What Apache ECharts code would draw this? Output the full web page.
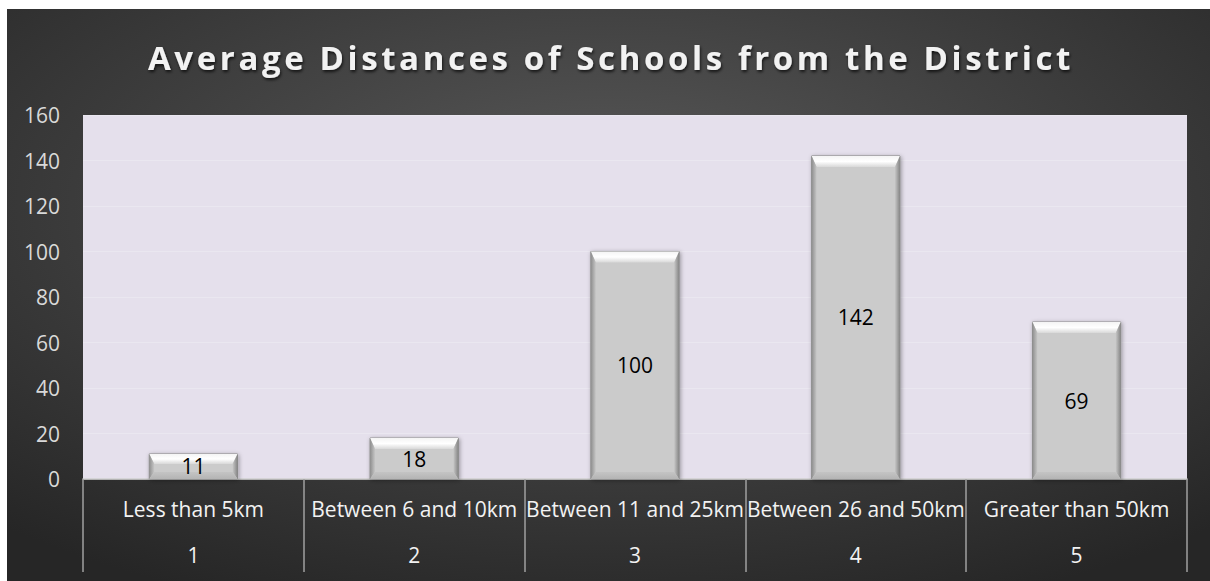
<!DOCTYPE html>
<html>
<head>
<meta charset="utf-8">
<script src="https://cdn.jsdelivr.net/npm/echarts@6/dist/echarts.min.js"></script>
<style>
html,body{margin:0;padding:0;background:#fff;width:1210px;height:581px;overflow:hidden;}
#chart{position:absolute;left:7px;top:9px;width:1203px;height:572px;}
#chart text[style*="33px"]{letter-spacing:3.6px;}
</style>
</head>
<body>
<div id="chart"></div>
<script>
const titleText = 'Average Distances of Schools from the District';
const categories = ['Less than 5km', 'Between 6 and 10km', 'Between 11 and 25km', 'Between 26 and 50km', 'Greater than 50km'];
const categoryNumbers = ['1', '2', '3', '4', '5'];
const values = [11, 18, 100, 142, 69];
const yTicks = { min: 0, max: 160, interval: 20 };

const chart = echarts.init(document.getElementById('chart'), null, { renderer: 'svg' });

function renderBevelBar(params, api) {
  const idx = api.value(0);
  const v = api.value(1);
  const topPt = api.coord([idx, v]);
  const basePt = api.coord([idx, 0]);
  const bw = api.size([1, 0])[0] * 0.4;
  const l = topPt[0] - bw / 2, r = topPt[0] + bw / 2;
  const t = topPt[1], b = basePt[1];
  const h = b - t;
  const tb = Math.min(11, h * 0.4);
  const bb = Math.min(7, h * 0.3);
  const s = 5;
  return {
    type: 'group',
    children: [
      { type: 'rect', shape: { x: l, y: t, width: bw, height: h },
        style: { fill: '#CBCBCB', stroke: '#8C8C8C', lineWidth: 1, shadowColor: 'rgba(0,0,0,0.35)', shadowBlur: 4, shadowOffsetX: 1, shadowOffsetY: 1 } },
      { type: 'polygon', shape: { points: [[l, t], [r, t], [r - s, t + tb], [l + s, t + tb]] },
        style: { fill: new echarts.graphic.LinearGradient(0, 0, 0, 1, [{ offset: 0, color: '#F4F4F4' }, { offset: 0.5, color: '#FFFFFF' }, { offset: 1, color: '#D8D8D8' }]) } },
      { type: 'polygon', shape: { points: [[l, t], [l + s, t + tb], [l + s, b - bb], [l, b]] },
        style: { fill: new echarts.graphic.LinearGradient(0, 0, 1, 0, [{ offset: 0, color: '#8E8E8E' }, { offset: 1, color: '#C6C6C6' }]) } },
      { type: 'polygon', shape: { points: [[r, t], [r - s, t + tb], [r - s, b - bb], [r, b]] },
        style: { fill: new echarts.graphic.LinearGradient(0, 0, 1, 0, [{ offset: 0, color: '#C6C6C6' }, { offset: 1, color: '#858585' }]) } },
      { type: 'polygon', shape: { points: [[l, b], [l + s, b - bb], [r - s, b - bb], [r, b]] },
        style: { fill: new echarts.graphic.LinearGradient(0, 0, 0, 1, [{ offset: 0, color: '#C4C4C4' }, { offset: 1, color: '#B4B4B4' }]) } },
      { type: 'text', style: { text: String(v), x: topPt[0], y: (t + b) / 2, align: 'center', verticalAlign: 'middle',
        font: '21px "Open Sans"', fill: '#000000' } }
    ]
  };
}

const option = {
  backgroundColor: new echarts.graphic.RadialGradient(0.5, 0.35, 0.75, [
    { offset: 0, color: '#5A5A5A' },
    { offset: 1, color: '#262626' }
  ]),
  title: {
    text: titleText,
    left: 136,
    top: 27,
    textStyle: {
      fontFamily: 'Open Sans', fontWeight: 'bold', fontSize: 33, color: '#F2F2F2',
      textShadowColor: 'rgba(0,0,0,0.7)', textShadowBlur: 3, textShadowOffsetX: 1, textShadowOffsetY: 2
    }
  },
  grid: {
    left: 76, right: 23, top: 106, bottom: 102,
    show: true, backgroundColor: '#E5E0EC', borderWidth: 0
  },
  xAxis: {
    type: 'category',
    data: categories,
    boundaryGap: true,
    axisLine: { show: true, lineStyle: { color: '#CFCFCF', width: 1.5 } },
    axisTick: { show: true, alignWithLabel: false, interval: 0, length: 93, lineStyle: { color: '#A0A0A0', width: 1.5 } },
    axisLabel: {
      interval: 0, hideOverlap: false, margin: 7,
      formatter: function (val, i) { return '{n|' + val + '}\n{i|' + categoryNumbers[i] + '}'; },
      rich: {
        n: { fontFamily: 'Open Sans', fontSize: 21, color: '#F2F2F2', lineHeight: 46 },
        i: { fontFamily: 'Open Sans', fontSize: 21, color: '#F2F2F2', lineHeight: 46 }
      }
    },
    splitLine: { show: false }
  },
  yAxis: {
    type: 'value',
    min: yTicks.min, max: yTicks.max, interval: yTicks.interval,
    axisLine: { show: false },
    axisTick: { show: false },
    axisLabel: { fontFamily: 'Open Sans', fontSize: 21, color: '#D9D9D9', margin: 23 },
    splitLine: { show: true, lineStyle: { color: 'rgba(255,255,255,0.22)', width: 1 } }
  },
  series: [{
    type: 'custom',
    renderItem: renderBevelBar,
    data: values.map(function (v, i) { return [i, v]; }),
    encode: { x: 0, y: 1 },
    animation: false
  }],
  animation: false
};
chart.setOption(option);
</script>
</body>
</html>
